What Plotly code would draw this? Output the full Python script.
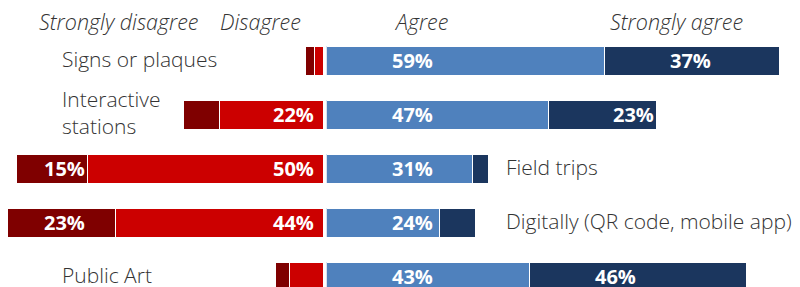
import plotly.graph_objects as go

categories = ["Signs or plaques", "Interactive<br>stations", "Field trips",
              "Digitally (QR code, mobile app)", "Public Art"]
strongly_disagree = [1.9, 7.6, 15, 23, 3]
disagree = [1.8, 22, 50, 44, 7.1]
agree = [59, 47, 31, 24, 43]
strongly_agree = [37, 23, 3.3, 7.6, 46]
label_side = ["left", "left", "right", "right", "left"]
headers = ["Strongly disagree", "Disagree", "Agree", "Strongly agree"]

C_SD, C_D, C_A, C_SA = "#7f0000", "#cc0000", "#4f81bd", "#1b365e"
FONT = "Open Sans"
TXT = "#333333"

ypos = list(range(len(categories)))
fig = go.Figure()
bar_w = 29 / 54

def add(vals, color, name, axis):
    fig.add_trace(go.Bar(y=ypos, x=vals, orientation="h", name=name,
                         marker=dict(color=color, line=dict(color="white", width=1)),
                         width=bar_w, xaxis=axis, yaxis="y", hoverinfo="x+name"))

add(disagree, C_D, "Disagree", "x")
add(strongly_disagree, C_SD, "Strongly disagree", "x")
add(agree, C_A, "Agree", "x2")
add(strongly_agree, C_SA, "Strongly agree", "x2")

ann = []
lab_font = dict(family=FONT, size=20, color="white", weight="bold")
for i in ypos:
    if disagree[i] >= 10:
        ann.append(dict(x=1.5, y=i, xref="x", yref="y", text=f"{disagree[i]:.0f}%",
                        xanchor="right", yanchor="middle", showarrow=False, font=lab_font))
    if strongly_disagree[i] >= 10:
        ann.append(dict(x=50, y=i, xref="x", yref="y", text=f"{strongly_disagree[i]:.0f}%",
                        xanchor="right", yanchor="middle", showarrow=False, font=lab_font))
    if agree[i] >= 10:
        ann.append(dict(x=13.4, y=i, xref="x2", yref="y", text=f"{agree[i]:.0f}%",
                        xanchor="left", yanchor="middle", showarrow=False, font=lab_font))
    if strongly_agree[i] >= 10:
        ann.append(dict(x=agree[i] + 13.4, y=i, xref="x2", yref="y", text=f"{strongly_agree[i]:.0f}%",
                        xanchor="left", yanchor="middle", showarrow=False, font=lab_font))
    xp = 60 / 800 if label_side[i] == "left" else 504 / 800
    ann.append(dict(x=xp, y=i - 0.03, xref="paper", yref="y", text=categories[i], align="left",
                    xanchor="left", yanchor="middle", showarrow=False,
                    font=dict(family=FONT, size=21, color=TXT, weight=300)))

hx = [118, 260, 421, 676]
for h, x in zip(headers, hx):
    ann.append(dict(x=x / 800, y=1 - 21.5 / 287, xref="paper", yref="paper", text=f"<i>{h}</i>",
                    xanchor="center", yanchor="middle", showarrow=False,
                    font=dict(family=FONT, size=21.5, color=TXT, weight=300)))

px = 4.72
fig.update_layout(
    width=800, height=287, margin=dict(l=0, r=0, t=0, b=0),
    paper_bgcolor="white", plot_bgcolor="white", barmode="stack", showlegend=False,
    xaxis=dict(domain=[0, 323.3 / 800], range=[323.3 / px, 0], visible=False, fixedrange=True),
    xaxis2=dict(domain=[326.3 / 800, 1], range=[0, (800 - 326.3) / px], visible=False, fixedrange=True),
    yaxis=dict(range=[(287 - 60.5) / 54, -60.5 / 54], visible=False, fixedrange=True),
    annotations=ann,
    font=dict(family=FONT),
)
fig.write_html("out.html", config={"displayModeBar": False},
               post_script="document.body.style.margin='0px';document.body.style.overflow='hidden';")
